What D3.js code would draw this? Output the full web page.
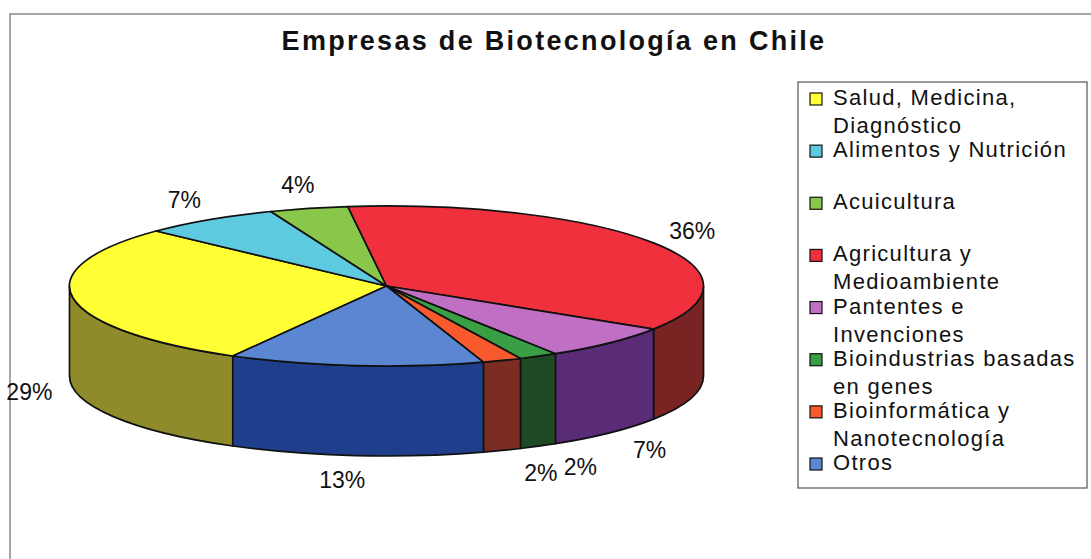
<!DOCTYPE html>
<html>
<head>
<meta charset="utf-8">
<script src="https://cdn.jsdelivr.net/npm/d3@7"></script>
<style>
  body { margin: 0; background: #fff; }
  text { font-family: 'Liberation Sans', Arial, sans-serif; fill: #111; }
</style>
</head>
<body>
<script>
const categories = [
  'Salud, Medicina, Diagnóstico',
  'Alimentos y Nutrición',
  'Acuicultura',
  'Agricultura y Medioambiente',
  'Pantentes e Invenciones',
  'Bioindustrias basadas en genes',
  'Bioinformática y Nanotecnología',
  'Otros',
];
const values = [29, 7, 4, 36, 7, 2, 2, 13];
const legendLines = [
  ['Salud, Medicina,', 'Diagnóstico'],
  ['Alimentos y Nutrición'],
  ['Acuicultura'],
  ['Agricultura y', 'Medioambiente'],
  ['Pantentes e', 'Invenciones'],
  ['Bioindustrias basadas', 'en genes'],
  ['Bioinformática y', 'Nanotecnología'],
  ['Otros'],
];
const topColors = ['#ffff33', '#5ecae0', '#88c74a', '#f0303c', '#c070c4', '#3a9e44', '#f85a2e', '#5b86d2'];
const sideColors = ['#8f8b2b', '#2e6a74', '#44642a', '#7a2323', '#5a2c78', '#1d4a24', '#7b2d24', '#1f3f8c'];

const W = 1091, H = 559;
const cx = 386.5, cy = 286, rx = 317, ry = 80, depth = 90;
const firstAngle = 209 * Math.PI / 180;

const svg = d3.select('body').append('svg')
  .attr('width', W)
  .attr('height', H);

svg.append('rect')
  .attr('x', 10).attr('y', 14)
  .attr('width', W + 20).attr('height', H + 20)
  .attr('fill', '#fff')
  .attr('stroke', '#8a8a8a')
  .attr('stroke-width', 1.5);

// title centred over the whole chart area, like Excel does
svg.append('text')
  .text('Empresas de Biotecnología en Chile')
  .attr('x', 554)
  .attr('y', 50)
  .attr('text-anchor', 'middle')
  .style('font-size', '27px')
  .style('font-weight', 'bold')
  .style('letter-spacing', '2.3px');

const pie = d3.pie().sort(null)
  .startAngle(firstAngle)
  .endAngle(firstAngle + 2 * Math.PI);

// d3 angles start at 12 o'clock; convert to screen ellipse parameter
const slices = pie(values).map((d, i) => ({
  ...d, i,
  t0: d.startAngle - Math.PI / 2,
  t1: d.endAngle - Math.PI / 2,
}));

const pt = (t, dy = 0) => `${cx + rx * Math.cos(t)},${cy + ry * Math.sin(t) + dy}`;

// outer wall, only the front half (0..PI) is visible
const walls = [];
slices.forEach((s) => {
  [0, 2 * Math.PI].forEach((k) => {
    const lo = Math.max(s.t0, k), hi = Math.min(s.t1, k + Math.PI);
    if (hi > lo) walls.push({ lo, hi, i: s.i });
  });
});

svg.append('g').selectAll('path')
  .data(walls)
  .join('path')
    .attr('d', (w) => `M${pt(w.lo)} A${rx},${ry} 0 0 1 ${pt(w.hi)} L${pt(w.hi, depth)} A${rx},${ry} 0 0 0 ${pt(w.lo, depth)} Z`)
    .attr('fill', (w) => sideColors[w.i])
    .attr('stroke', '#111')
    .attr('stroke-width', 1.7)
    .attr('stroke-linejoin', 'round');

svg.append('g').selectAll('path')
  .data(slices)
  .join('path')
    .attr('d', (s) => `M${cx},${cy} L${pt(s.t0)} A${rx},${ry} 0 ${s.t1 - s.t0 > Math.PI ? 1 : 0} 1 ${pt(s.t1)} Z`)
    .attr('fill', (s) => topColors[s.i])
    .attr('stroke', '#111')
    .attr('stroke-width', 1.7)
    .attr('stroke-linejoin', 'round');

// percentage labels, spread out a little more near the front
const labelPos = (s) => {
  const t = (s.t0 + s.t1) / 2;
  const c = Math.cos(t), sn = Math.sin(t);
  const spread = 1.14 + (sn > 0 ? 0.3 * Math.pow(sn, 6) : 0);
  return [cx + spread * rx * c, cy + 1.3 * ry * sn + (sn > 0 ? depth : 0)];
};

svg.append('g').selectAll('text')
  .data(slices)
  .join('text')
    .text((s) => `${s.value}%`)
    .attr('x', (s) => labelPos(s)[0])
    .attr('y', (s) => labelPos(s)[1])
    .attr('text-anchor', 'middle')
    .attr('dominant-baseline', 'central')
    .style('font-size', '23px');

// legend
const legend = svg.append('g');
legend.append('rect')
  .attr('x', 798).attr('y', 82)
  .attr('width', 289).attr('height', 406)
  .attr('fill', '#fff')
  .attr('stroke', '#555')
  .attr('stroke-width', 1.2);

const legendY = d3.scaleLinear([0, categories.length - 1], [105, 470]);

const item = legend.selectAll('g.item')
  .data(categories)
  .join('g')
    .attr('class', 'item')
    .attr('transform', (d, i) => `translate(0, ${legendY(i)})`);

item.append('rect')
  .attr('x', 810).attr('y', -12)
  .attr('width', 12).attr('height', 12)
  .attr('fill', (d, i) => topColors[i])
  .attr('stroke', '#111')
  .attr('stroke-width', 1.2);

item.selectAll('text')
  .data((d, i) => legendLines[i])
  .join('text')
    .text((d) => d)
    .attr('x', 833)
    .attr('y', (d, j) => j * 28)
    .style('font-size', '22px')
    .style('letter-spacing', '1.3px');
</script>
</body>
</html>
